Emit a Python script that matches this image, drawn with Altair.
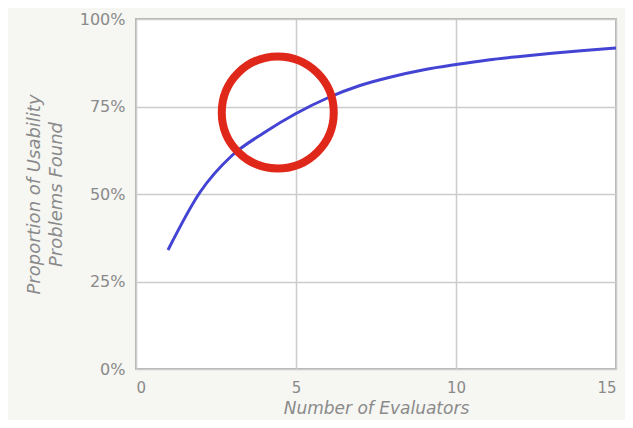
import altair as alt
import pandas as pd

# Data
evaluators = [1, 2, 3, 4, 5, 6, 7, 8, 9, 10, 11, 12, 13, 14, 15]
proportion_found = [0.34, 0.505, 0.61, 0.675, 0.73, 0.775, 0.81, 0.835, 0.855,
                    0.87, 0.883, 0.893, 0.902, 0.91, 0.917]

highlight_x = [4.43]
highlight_y = [0.733]

x_ticks = [0, 5, 10, 15]
y_ticks = [0, 0.25, 0.5, 0.75, 1.0]

curve_df = pd.DataFrame({"evaluators": evaluators, "found": proportion_found})
circle_df = pd.DataFrame({"evaluators": highlight_x, "found": highlight_y})

FONT = "DejaVu Sans"
GRAY = "#8a8a8a"

x_scale = alt.Scale(domain=[0, 15], nice=False)
y_scale = alt.Scale(domain=[0, 1], nice=False)

x_axis = alt.Axis(
    title="Number of Evaluators",
    values=x_ticks,
    format="d",
    ticks=False,
    domain=False,
    labelPadding=11,
    labelFontSize=15,
    labelColor=GRAY,
    labelFont=FONT,
    titleFont=FONT,
    titleFontSize=17,
    titleFontStyle="italic",
    titleFontWeight="normal",
    titleColor=GRAY,
    titlePadding=5,
    gridColor="#cccccc",
    gridWidth=1.5,
)

y_axis = alt.Axis(
    title=["Proportion of Usability", "Problems Found"],
    values=y_ticks,
    format=".0%",
    ticks=False,
    domain=False,
    labelPadding=11,
    labelFontSize=16,
    labelColor=GRAY,
    labelFont=FONT,
    titleFont=FONT,
    titleFontSize=18,
    titleFontStyle="italic",
    titleFontWeight="normal",
    titleColor=GRAY,
    titlePadding=14,
    titleLineHeight=22,
    gridColor="#cccccc",
    gridWidth=1.5,
)

line = alt.Chart(curve_df).mark_line(
    color="#4343d4", strokeWidth=3, interpolate="monotone"
).encode(
    x=alt.X("evaluators:Q", scale=x_scale, axis=x_axis),
    y=alt.Y("found:Q", scale=y_scale, axis=y_axis),
)

circle = alt.Chart(circle_df).mark_point(
    shape="circle", filled=False, size=12544, strokeWidth=8,
    color="#e0281a", opacity=1
).encode(
    x=alt.X("evaluators:Q", scale=x_scale),
    y=alt.Y("found:Q", scale=y_scale),
)

chart = (line + circle).properties(
    width=480,
    height=350,
    autosize=alt.AutoSizeParams(type="none"),
    padding={"left": 128, "top": 11, "right": 9, "bottom": 51},
    background="#f6f6f3",
).configure_view(
    fill="white",
    stroke="#b4b4b4",
    strokeWidth=2,
)

chart.save("out.html", embed_options={"renderer": "svg", "actions": False})
